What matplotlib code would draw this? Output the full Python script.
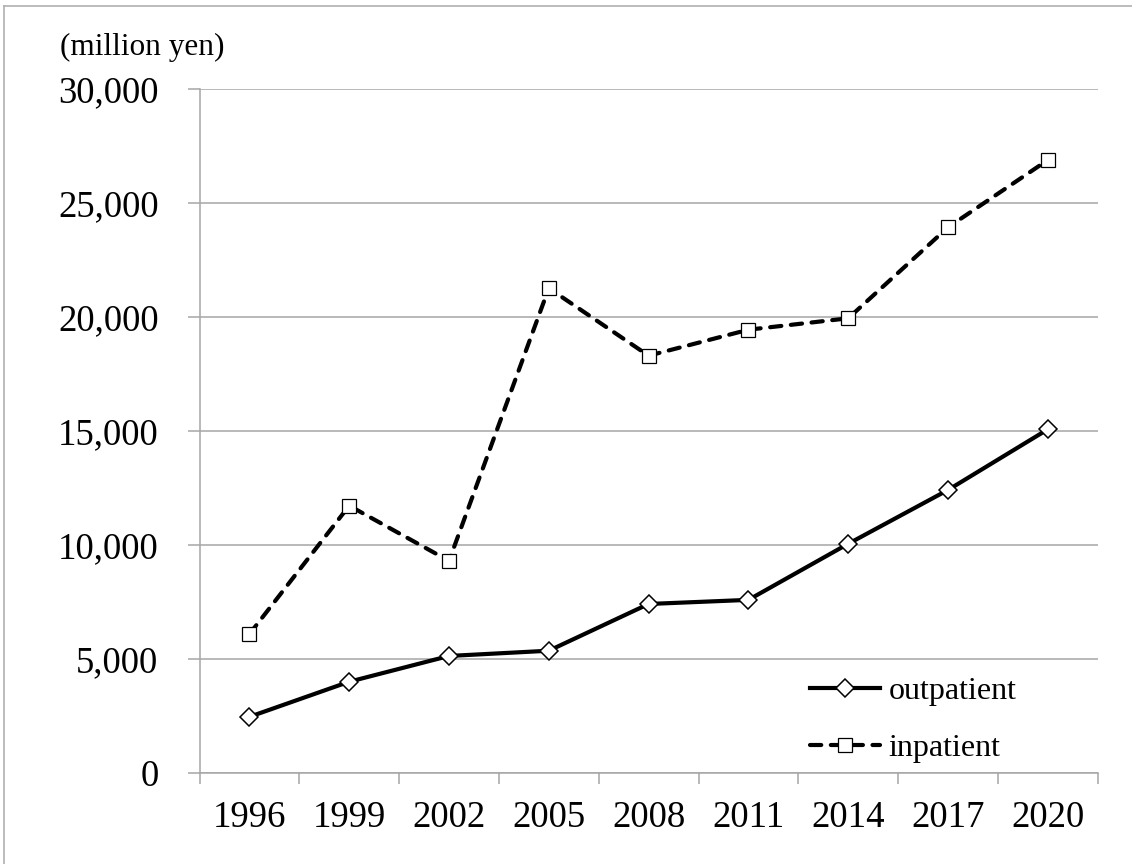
import matplotlib
matplotlib.use('Agg')
import matplotlib.pyplot as plt
from matplotlib.lines import Line2D
from matplotlib.ticker import FuncFormatter, FixedLocator
import numpy as np

years = ['1996', '1999', '2002', '2005', '2008', '2011', '2014', '2017', '2020']
outpatient = [2450, 3990, 5120, 5350, 7400, 7580, 10040, 12400, 15060]
inpatient = [6080, 11710, 9290, 21250, 18290, 19430, 19930, 23920, 26870]

plt.rcParams['font.family'] = ['Liberation Serif', 'DejaVu Serif']
grey = '#a6a6a6'

fig = plt.figure(figsize=(11.32, 8.64), dpi=100)
ax = fig.add_axes([199.5 / 1132, 1 - 772.7 / 864, (1097.7 - 199.5) / 1132, (772.7 - 88.7) / 864])

x = np.arange(len(years))
ax.plot(x, outpatient, color='black', lw=3, marker='D', ms=9,
        mfc='white', mec='black', mew=1.1, label='outpatient', zorder=3)
ax.plot(x, inpatient, color='black', lw=3, dashes=(2.7, 2.3), dash_capstyle='round',
        marker='s', ms=10, mfc='white', mec='black', mew=0.9, label='inpatient', zorder=3)

ax.set_xlim(-0.5, len(years) - 0.5)
ax.set_ylim(0, 30000)
ax.yaxis.set_major_locator(FixedLocator(range(0, 30001, 5000)))
ax.yaxis.set_major_formatter(FuncFormatter(lambda v, p: f'{int(v):,}'))
ax.set_xticks(x)
ax.set_xticklabels(years)
ax.set_xticks(np.arange(-0.5, len(years)), minor=True)
ax.tick_params(axis='x', which='major', length=0, pad=20, labelsize=26.5)
ax.tick_params(axis='x', which='minor', length=8, width=1.1, color=grey, direction='out')
ax.tick_params(axis='y', length=8.5, width=1.1, color=grey, pad=21, labelsize=26.5)

ax.grid(axis='y', color=grey, lw=1.1)
ax.set_axisbelow(True)
for s in ['top', 'right']:
    ax.spines[s].set_visible(False)
for s in ['left', 'bottom']:
    ax.spines[s].set_color(grey)
    ax.spines[s].set_linewidth(1.1)

fig.text(60 / 1132, 1 - 47 / 864, '(million yen)', fontsize=22.5, va='center', ha='left')

ax.legend(loc='lower left', bbox_to_anchor=((810 - 199.5) / 898.2, 0.014), frameon=False,
          fontsize=23, handlelength=2.2, handletextpad=0.25, labelspacing=0.87,
          borderpad=0, borderaxespad=0)

# light border on the left and top edges of the picture
fig.add_artist(Line2D([4 / 1132, 4 / 1132], [0, 1 - 6 / 864], color='#b0b0b0', lw=1.2,
                      transform=fig.transFigure))
fig.add_artist(Line2D([4 / 1132, 1], [1 - 6 / 864, 1 - 6 / 864], color='#b0b0b0', lw=1.2,
                      transform=fig.transFigure))

fig.savefig('out.png', dpi=100)
